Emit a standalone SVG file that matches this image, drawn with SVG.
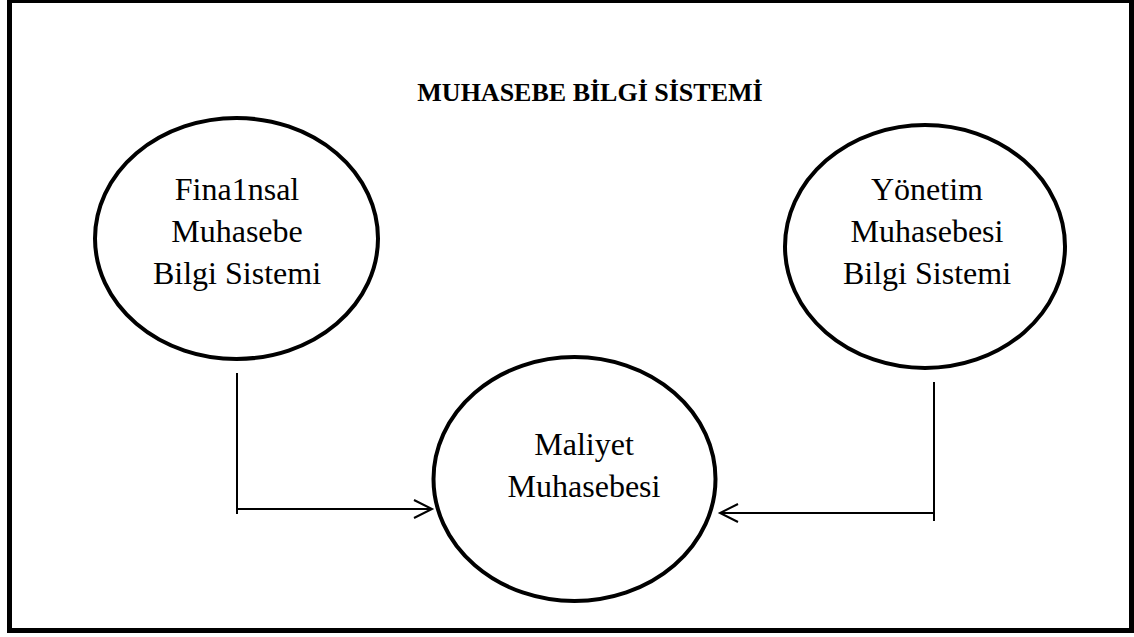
<svg xmlns="http://www.w3.org/2000/svg" width="1134" height="637" viewBox="0 0 1134 637">
<style>
.node{fill:none;stroke:#000;stroke-width:4}
.lbl{font-family:"Liberation Serif","Times New Roman",serif;font-size:32px;fill:#000;text-anchor:middle}
.title{font-family:"Liberation Serif","Times New Roman",serif;font-size:26px;font-weight:bold;fill:#000;text-anchor:middle}
.conn{fill:none;stroke:#000;stroke-width:2}
</style>
<defs>
<marker id="arr" markerUnits="userSpaceOnUse" markerWidth="22" markerHeight="22" refX="19" refY="10" orient="auto" viewBox="0 0 22 22">
<path d="M1,1 L19,10 L1,19" fill="none" stroke="#000" stroke-width="2"/>
</marker>
</defs>
<rect x="9.5" y="0.5" width="1122" height="630" fill="#fff" stroke="#000" stroke-width="5"/>
<text class="title" x="590" y="101">MUHASEBE BİLGİ SİSTEMİ</text>
<g id="node-finansal">
<ellipse class="node" cx="236.5" cy="238.5" rx="141.5" ry="120.5"/>
<text class="lbl" x="237" y="200">Fina1nsal</text>
<text class="lbl" x="237" y="242">Muhasebe</text>
<text class="lbl" x="237" y="284">Bilgi Sistemi</text>
</g>
<g id="node-yonetim">
<ellipse class="node" cx="925" cy="246.5" rx="140" ry="121.5"/>
<text class="lbl" x="927" y="200">Yönetim</text>
<text class="lbl" x="927" y="242">Muhasebesi</text>
<text class="lbl" x="927" y="284">Bilgi Sistemi</text>
</g>
<g id="node-maliyet">
<ellipse class="node" cx="574.5" cy="479" rx="141" ry="122"/>
<text class="lbl" x="584" y="455">Maliyet</text>
<text class="lbl" x="584" y="497">Muhasebesi</text>
</g>
<g id="connectors">
<path class="conn" d="M237,373 V514"/>
<path class="conn" d="M237,509 H432" marker-end="url(#arr)"/>
<path class="conn" d="M934,382 V521"/>
<path class="conn" d="M934,513 H720" marker-end="url(#arr)"/>
</g>
</svg>
